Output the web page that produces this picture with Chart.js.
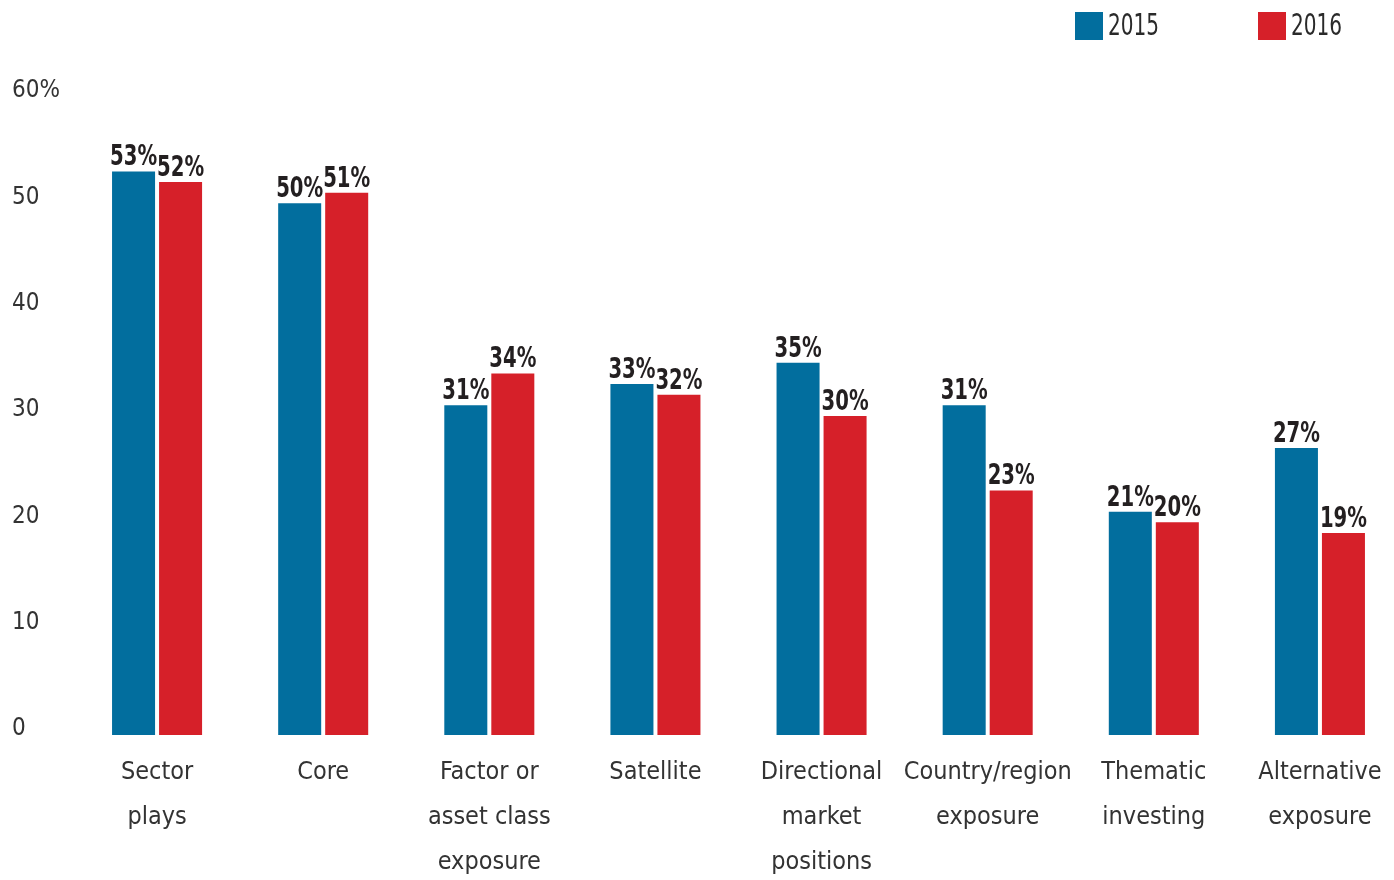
<!DOCTYPE html>
<html>
<head>
<meta charset="utf-8">
<script src="https://cdn.jsdelivr.net/npm/chart.js@4.4.1/dist/chart.umd.min.js"></script>
<style>
  html, body { margin: 0; padding: 0; background: #fff; overflow: hidden; }
  #wrap { width: 1410px; height: 880px; }
</style>
</head>
<body>
<div id="wrap"><canvas id="myChart"></canvas></div>
<script>
const categories = [
    ["Sector", "plays"],
    ["Core"],
    ["Factor or", "asset class", "exposure"],
    ["Satellite"],
    ["Directional", "market", "positions"],
    ["Country/region", "exposure"],
    ["Thematic", "investing"],
    ["Alternative", "exposure"],
];
const years = ["2015", "2016"];
const values2015 = [53, 50, 31, 33, 35, 31, 21, 27];
const values2016 = [52, 51, 34, 32, 30, 23, 20, 19];
const yTicks = [0, 10, 20, 30, 40, 50, 60];

const BLUE = "#026e9e";
const RED = "#d62029";
const FONT = "'Liberation Sans Narrow', 'DejaVu Sans Condensed', sans-serif";

// squeeze text horizontally so it reads like a narrow face
function narrowText(ctx, text, x, y, squeeze) {
    ctx.save();
    ctx.translate(x, y);
    ctx.scale(squeeze, 1);
    ctx.fillText(text, 0, 0);
    ctx.restore();
}

// percent labels sitting on top of each bar
const barValues = {
    id: "barValues",
    afterDatasetsDraw(chart) {
        const ctx = chart.ctx;
        ctx.save();
        ctx.font = "bold 28px " + FONT;
        ctx.fillStyle = "#231f20";
        ctx.textAlign = "center";
        ctx.textBaseline = "alphabetic";
        chart.data.datasets.forEach((ds, di) => {
            chart.getDatasetMeta(di).data.forEach((bar, i) => {
                narrowText(ctx, ds.data[i] + "%", bar.x, bar.y - 6, 0.78);
            });
        });
        ctx.restore();
    },
};

// legend in the top right corner
const cornerLegend = {
    id: "cornerLegend",
    afterDraw(chart) {
        const ctx = chart.ctx;
        const starts = [1075, 1258];
        ctx.save();
        ctx.font = "31px " + FONT;
        ctx.textBaseline = "middle";
        ctx.textAlign = "left";
        chart.data.datasets.forEach((ds, di) => {
            const x = starts[di];
            ctx.fillStyle = ds.backgroundColor;
            ctx.fillRect(x, 12, 28, 28);
            ctx.fillStyle = "#2a2a2a";
            narrowText(ctx, ds.label, x + 33, 27, 0.72);
        });
        ctx.restore();
    },
};

const ctx = document.getElementById("myChart");

new Chart(ctx, {
    type: "bar",
    data: {
        labels: categories,
        datasets: [
            {
                label: years[0],
                data: values2015,
                backgroundColor: BLUE,
                categoryPercentage: 0.566,
                barPercentage: 0.915,
            },
            {
                label: years[1],
                data: values2016,
                backgroundColor: RED,
                categoryPercentage: 0.566,
                barPercentage: 0.915,
            },
        ],
    },
    options: {
        responsive: true,
        maintainAspectRatio: false,
        animation: false,
        layout: {
            padding: { top: 97, left: 12, right: 7, bottom: 0 },
        },
        plugins: {
            legend: { display: false },
            tooltip: { enabled: false },
        },
        scales: {
            x: {
                grid: { display: false, drawTicks: false },
                border: { display: false },
                ticks: {
                    padding: 15,
                    color: "#333",
                    autoSkip: false,
                    maxRotation: 0,
                    font: { family: FONT, size: 25, lineHeight: 1.8 },
                },
                afterFit(scale) {
                    scale.height = 145;
                },
            },
            y: {
                min: 0,
                max: 60,
                grid: { display: false, drawTicks: false },
                border: { display: false },
                afterBuildTicks(scale) {
                    scale.ticks = yTicks.map((v) => ({ value: v }));
                },
                ticks: {
                    crossAlign: "far",
                    labelOffset: -6,
                    color: "#333",
                    font: { family: FONT, size: 24 },
                    callback: (v) => (v === 60 ? v + "%" : v),
                },
                afterFit(scale) {
                    scale.width = 62;
                },
            },
        },
    },
    plugins: [barValues, cornerLegend],
});
</script>
</body>
</html>
